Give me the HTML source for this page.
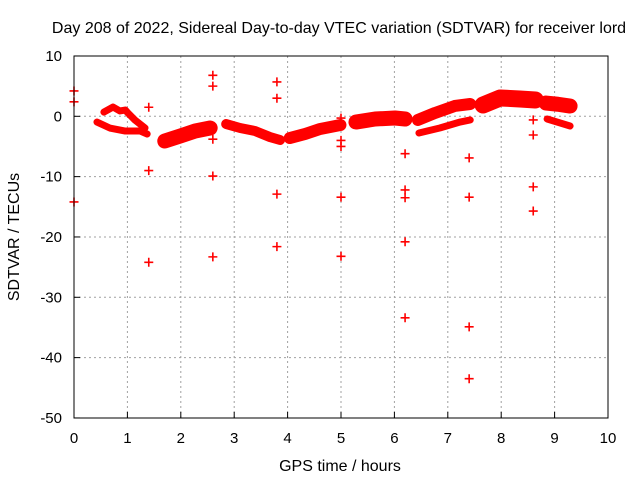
<!DOCTYPE html>
<html><head><meta charset="utf-8"><style>
body{margin:0;background:#fff}
svg{display:block;font-family:"Liberation Sans",sans-serif}
</style></head><body>
<svg id="chart" width="640" height="480" viewBox="0 0 640 480">
<rect width="640" height="480" fill="#fff"/>
<text x="339" y="33" text-anchor="middle" font-size="16">Day 208 of 2022, Sidereal Day-to-day VTEC variation (SDTVAR) for receiver lord</text>
<text x="340" y="471" text-anchor="middle" font-size="16">GPS time / hours</text>
<text transform="translate(19,237) rotate(-90)" text-anchor="middle" font-size="16">SDTVAR / TECUs</text>
<g id="grid"></g><g id="ticks"></g><g id="bands"></g><g id="pts"></g>
<rect x="74" y="56" width="534" height="362" fill="none" stroke="#000" stroke-width="1"/>
</svg>
<script>
const xTicks=[0,1,2,3,4,5,6,7,8,9,10];
const yTicks=[-50,-40,-30,-20,-10,0,10];
// bands: centerline hours / values / width
const bandA_h=[0.43,0.67,0.96,1.24,1.37], bandA_v=[-0.95,-1.94,-2.44,-2.44,-2.93];
const bandB_h=[0.56,0.73,0.86,0.96,1.01,1.14,1.33], bandB_v=[0.7,1.54,0.88,1.04,0.55,-0.61,-1.94];
const bandC_h=[1.70,1.99,2.27,2.55], bandC_v=[-4.1,-3.27,-2.44,-1.94];
const bandD_h=[2.85,3.11,3.39,3.67,3.86], bandD_v=[-1.28,-1.94,-2.44,-3.44,-3.93];
const bandE_h=[4.04,4.33,4.61,4.99], bandE_v=[-3.6,-2.93,-2.1,-1.44];
const bandF_h=[5.28,5.64,6.01,6.2], bandF_v=[-0.95,-0.45,-0.28,-0.45];
const bandG_h=[6.44,6.76,7.13,7.42], bandG_v=[-0.61,0.55,1.71,2.04];
const bandH_h=[6.46,6.85,7.23,7.42], bandH_v=[-2.77,-1.94,-0.95,-0.61];
const bandI_h=[7.66,7.98,8.35,8.64], bandI_v=[1.87,3.04,2.87,2.7];
const bandJ_h=[8.84,9.06,9.29], bandJ_v=[2.2,2.0,1.7];
const bandK_h=[8.86,9.29], bandK_v=[-0.45,-1.61];
const bands=[[bandA_h,bandA_v,7],[bandB_h,bandB_v,7],[bandC_h,bandC_v,15],[bandD_h,bandD_v,10],[bandE_h,bandE_v,12],[bandF_h,bandF_v,15],[bandG_h,bandG_v,12],[bandH_h,bandH_v,7],[bandI_h,bandI_v,17],[bandJ_h,bandJ_v,15],[bandK_h,bandK_v,7]];
const outH=[0,0,0,1.4,1.4,1.4,2.6,2.6,2.6,2.6,2.6,3.8,3.8,3.8,3.8,5,5,5,5,5,6.2,6.2,6.2,6.2,6.2,7.4,7.4,7.4,7.4,8.6,8.6,8.6,8.6];
const outV=[4.2,2.4,-14.2,1.5,-9,-24.2,6.8,5.0,-3.8,-9.9,-23.3,5.7,3.0,-12.9,-21.6,-0.3,-4,-5,-13.4,-23.2,-6.2,-12.2,-13.5,-20.8,-33.4,-6.9,-13.4,-34.9,-43.5,-0.6,-3.1,-11.7,-15.7];
const X=h=>74+h*53.4, Y=v=>116.3-v*6.033;
const NS="http://www.w3.org/2000/svg";
function mk(t,a,p){const e=document.createElementNS(NS,t);for(const k in a)e.setAttribute(k,a[k]);p.appendChild(e);return e;}
const grid=document.getElementById('grid'),ticks=document.getElementById('ticks');
xTicks.forEach(t=>{
 if(t>0&&t<10){const l=mk('line',{x1:X(t),x2:X(t),y1:56,y2:418,stroke:'#a0a0a0','stroke-dasharray':'2,3'},grid);
 
 }
 const s=mk('line',{x1:X(t),x2:X(t),y1:418,y2:412,stroke:'#000'},ticks);
 
 
 const tx=mk('text',{x:X(t),y:443,'text-anchor':'middle','font-size':15},ticks);tx.textContent=t;
 
 
});
yTicks.forEach(t=>{
 if(t>-50&&t<10){const l=mk('line',{x1:74,x2:608,y1:Y(t),y2:Y(t),stroke:'#a0a0a0','stroke-dasharray':'2,3'},grid);
 
 }
 const s=mk('line',{x1:74,x2:80,y1:Y(t),y2:Y(t),stroke:'#000'},ticks);
 
 
 const tx=mk('text',{x:62,y:Y(t)+5,'text-anchor':'end','font-size':15},ticks);tx.textContent=t;
 
 
});
const bg=document.getElementById('bands');
bands.forEach(b=>{
 const d=b[0].map((h,i)=>(i?'L':'M')+X(h)+','+Y(b[1][i])).join(' ');
 const p=mk('path',{d:d,fill:'none',stroke:'#f00','stroke-width':b[2],'stroke-linejoin':'round','stroke-linecap':'round'},bg);
 
 
});
const pg=document.getElementById('pts');
outH.forEach((h,i)=>{
 const x=X(h),y=Y(outV[i]);
 const p=mk('path',{d:`M${x-4.5},${y}H${x+4.5}M${x},${y-4.5}V${y+4.5}`,stroke:'#f00','stroke-width':1.6},pg);
 
 
});
</script>
</body></html>
